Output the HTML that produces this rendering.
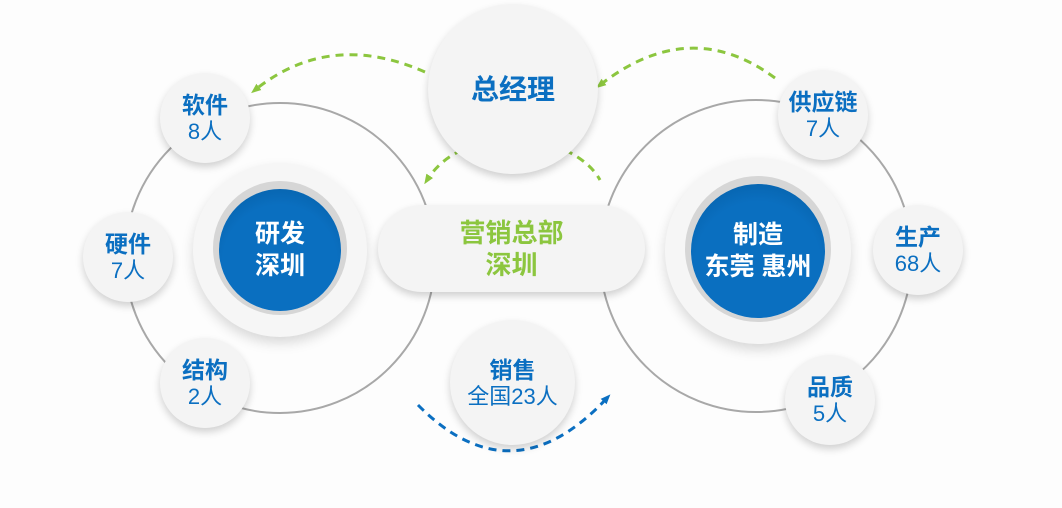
<!DOCTYPE html>
<html><head><meta charset="utf-8"><style>
html,body{margin:0;padding:0}
body{width:1062px;height:508px;position:relative;overflow:hidden;background:#fdfdfd;font-family:"Liberation Sans","Noto Sans CJK SC",sans-serif}
.c{position:absolute;border-radius:50%;background:#f4f4f4;box-shadow:0 4px 8px rgba(0,0,0,.18);display:flex;flex-direction:column;align-items:center;justify-content:center;text-align:center;color:#0b6fc1}
.c b{font-size:23px;line-height:27px}
.c span{font-size:22px;line-height:25px}
.ring{position:absolute;border-radius:50%;background:#f6f6f6;box-shadow:0 6px 12px rgba(0,0,0,.15)}
.blue{position:absolute;border-radius:50%;background:radial-gradient(circle at 50% 60%,#0a6fc0 60%,#055a9e 100%);box-shadow:0 -2px 0 6px #d6d6d6;color:#fff;display:flex;align-items:center;justify-content:center;text-align:center;font-weight:bold;font-size:25px;line-height:32px}
</style></head><body>
<svg width="1062" height="508" style="position:absolute;left:0;top:0">
<defs>
<marker id="ag" markerUnits="userSpaceOnUse" markerWidth="10" markerHeight="10" refX="5" refY="5" orient="auto"><path d="M0,1L10,5L0,9z" fill="#8cc63f"/></marker>
<marker id="ab" markerUnits="userSpaceOnUse" markerWidth="10" markerHeight="10" refX="5" refY="5" orient="auto"><path d="M0,1L10,5L0,9z" fill="#0b6fc1"/></marker>
</defs>
<circle cx="280" cy="258" r="155" fill="none" stroke="#a8a8a8" stroke-width="2"/>
<circle cx="756" cy="256" r="156" fill="none" stroke="#a8a8a8" stroke-width="2"/>
<g fill="none" stroke="#8cc63f" stroke-width="3" stroke-dasharray="8,6">
<path d="M425,72 Q330,30 255,90" marker-end="url(#ag)"/>
<path d="M775,78 Q690,15 600,85" marker-end="url(#ag)"/>
<path d="M462,150 Q440,160 427,180" marker-end="url(#ag)"/>
<path d="M565,150 Q590,162 600,180"/>
</g>
<path d="M418,405 Q512,500 607,398" fill="none" stroke="#0b6fc1" stroke-width="3" stroke-dasharray="8,6" marker-end="url(#ab)"/>
</svg>
<div class="ring" style="left:193px;top:163px;width:174px;height:174px"></div>
<div class="blue" style="left:219px;top:189px;width:122px;height:122px">研发<br>深圳</div>
<div class="ring" style="left:665px;top:158px;width:186px;height:186px"></div>
<div class="blue" style="left:691px;top:184px;width:134px;height:134px">制造<br>东莞 惠州</div>
<div class="c" style="left:428px;top:4px;width:170px;height:170px"><b style="font-size:28px;color:#0b6fc1">总经理</b></div>
<div class="c" style="left:378px;top:205px;width:267px;height:87px;border-radius:44px;color:#8cc63f"><b style="font-size:26px;line-height:32px">营销总部<br>深圳</b></div>
<div class="c" style="left:450px;top:320px;width:125px;height:125px"><b>销售</b><span>全国23人</span></div>
<div class="c" style="left:160px;top:73px;width:90px;height:90px"><b>软件</b><span>8人</span></div>
<div class="c" style="left:83px;top:212px;width:90px;height:90px"><b>硬件</b><span>7人</span></div>
<div class="c" style="left:160px;top:338px;width:90px;height:90px"><b>结构</b><span>2人</span></div>
<div class="c" style="left:778px;top:70px;width:90px;height:90px"><b>供应链</b><span>7人</span></div>
<div class="c" style="left:873px;top:205px;width:90px;height:90px"><b>生产</b><span>68人</span></div>
<div class="c" style="left:785px;top:355px;width:90px;height:90px"><b>品质</b><span>5人</span></div>
</body></html>
